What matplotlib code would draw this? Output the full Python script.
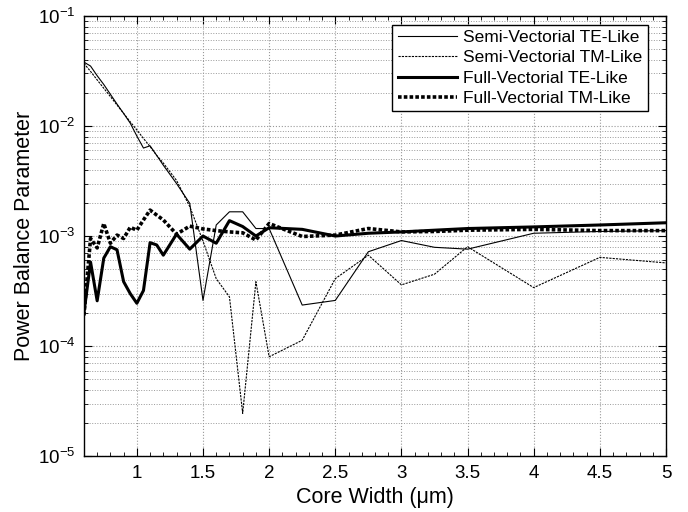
import numpy as np
import matplotlib
matplotlib.use('Agg')
import matplotlib.pyplot as plt
from matplotlib.ticker import LogLocator, MultipleLocator, NullFormatter

plt.rcParams['font.family'] = ['Liberation Sans', 'DejaVu Sans']
plt.rcParams['mathtext.fontset'] = 'custom'
plt.rcParams['mathtext.rm'] = 'Liberation Sans'

# core widths (um)
width = [0.6, 0.65, 0.7, 0.75, 0.8, 0.85, 0.9, 0.95, 1.0, 1.05, 1.1, 1.15, 1.2,
         1.3, 1.4, 1.5, 1.6, 1.7, 1.8, 1.9, 2.0,
         2.25, 2.5, 2.75, 3.0, 3.25, 3.5, 4.0, 4.5, 5.0]

semi_te = [3.8e-2, 3.5e-2, 2.86e-2, 2.38e-2, 1.94e-2, 1.58e-2, 1.3e-2, 1.06e-2, 8.1e-3,
           6.3e-3, 6.6e-3, 5.4e-3, 4.4e-3,
           3.0e-3, 1.98e-3, 2.6e-4, 1.26e-3, 1.66e-3, 1.66e-3, 1.17e-3, 1.17e-3,
           2.36e-4, 2.6e-4, 7.2e-4, 9.1e-4, 7.9e-4, 7.6e-4, 1.06e-3, 1.1e-3, 1.12e-3]

semi_tm = [3.7e-2, 3.13e-2, 2.62e-2, 2.2e-2, 1.85e-2, 1.55e-2, 1.3e-2, 1.09e-2, 9.2e-3,
           7.7e-3, 6.5e-3, 5.4e-3, 4.6e-3,
           3.2e-3, 1.85e-3, 9.0e-4, 4.1e-4, 2.8e-4, 2.45e-5, 3.85e-4, 8.0e-5,
           1.13e-4, 4.1e-4, 6.7e-4, 3.6e-4, 4.5e-4, 8.0e-4, 3.4e-4, 6.4e-4, 5.7e-4]

full_te = [2.0e-4, 5.8e-4, 2.58e-4, 6.3e-4, 8.0e-4, 7.5e-4, 3.85e-4, 3.0e-4, 2.45e-4,
           3.2e-4, 8.7e-4, 8.3e-4, 6.7e-4,
           1.04e-3, 7.6e-4, 1.0e-3, 8.6e-4, 1.38e-3, 1.22e-3, 1.0e-3, 1.19e-3,
           1.15e-3, 1.0e-3, 1.06e-3, 1.09e-3, 1.13e-3, 1.17e-3, 1.21e-3, 1.26e-3, 1.32e-3]

full_tm = [1.9e-4, 9.5e-4, 7.8e-4, 1.3e-3, 8.6e-4, 1.02e-3, 9.5e-4, 1.2e-3, 1.13e-3,
           1.4e-3, 1.72e-3, 1.55e-3, 1.4e-3,
           1.04e-3, 1.23e-3, 1.16e-3, 1.12e-3, 1.09e-3, 1.07e-3, 9.2e-4, 1.3e-3,
           9.9e-4, 1.02e-3, 1.17e-3, 1.09e-3, 1.1e-3, 1.13e-3, 1.15e-3, 1.12e-3, 1.12e-3]

fig = plt.figure(figsize=(6.88, 5.12), dpi=100)
ax = fig.add_axes([0.122, 0.109, 0.846, 0.86])

ax.semilogy(width, semi_te, color='black', lw=0.8, label='Semi-Vectorial TE-Like')
ax.semilogy(width, semi_tm, color='black', lw=0.8, ls=(0, (2, 1)),
            label='Semi-Vectorial TM-Like')
ax.semilogy(width, full_te, color='black', lw=2.2, label='Full-Vectorial TE-Like')
ax.semilogy(width, full_tm, color='black', lw=2.6, ls=(0, (1, 0.6)),
            label='Full-Vectorial TM-Like')

ax.set_xlim(0.6, 5)
ax.set_ylim(1e-5, 1e-1)
ax.xaxis.set_minor_locator(MultipleLocator(0.1))
ax.set_xticks([1, 1.5, 2, 2.5, 3, 3.5, 4, 4.5, 5])
ax.set_xticklabels(['1', '1.5', '2', '2.5', '3', '3.5', '4', '4.5', '5'])
ax.yaxis.set_major_locator(LogLocator(base=10, numticks=10))
ax.yaxis.set_minor_locator(LogLocator(base=10, subs=np.arange(2, 10), numticks=100))
ax.yaxis.set_minor_formatter(NullFormatter())

ax.tick_params(which='both', direction='in', top=True, right=True, labelsize=13.5)
ax.tick_params(which='major', length=6, width=0.8, pad=6)
ax.tick_params(which='minor', length=3, width=0.6)
ax.grid(True, which='major', color='#999999', ls=':', lw=0.8)
ax.grid(True, which='minor', axis='y', color='#999999', ls=':', lw=0.7)
for s in ax.spines.values():
    s.set_linewidth(1.0)

ax.set_xlabel('Core Width (\u03bcm)', fontsize=15.5, labelpad=4)
ax.set_ylabel('Power Balance Parameter', fontsize=15.5, labelpad=2)

leg = ax.legend(loc='upper right', bbox_to_anchor=(0.969, 0.98), borderaxespad=0,
                fontsize=12.5, handlelength=3.4, fancybox=False, framealpha=1,
                edgecolor='black', labelspacing=0.3, borderpad=0.3, handletextpad=0.4)
leg.get_frame().set_linewidth(1.0)

fig.savefig('out.png', dpi=100)
